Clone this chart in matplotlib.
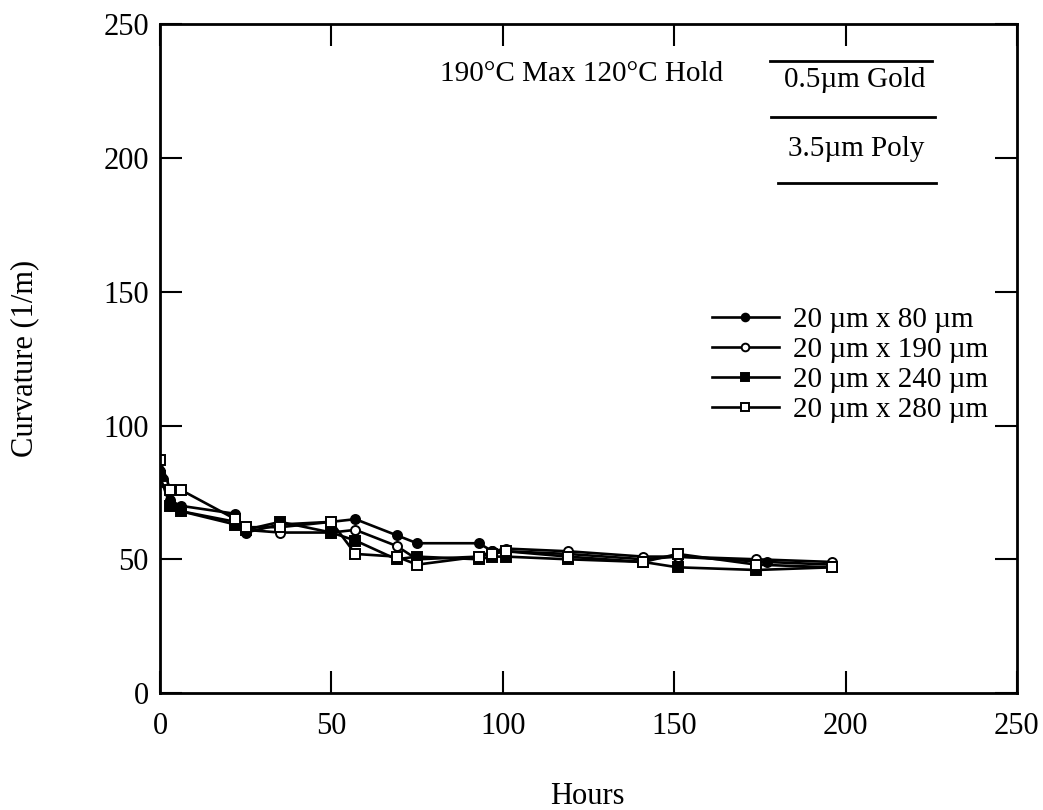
import matplotlib
matplotlib.use("Agg")
import matplotlib.pyplot as plt
from matplotlib.lines import Line2D

plt.rcParams['font.family'] = ['Liberation Serif', 'DejaVu Serif']

# ---- data ----
x80 = [0, 1, 3, 6, 22, 25, 35, 50, 57, 69, 75, 93, 97, 101, 119, 141, 151, 177, 196]
y80 = [83, 80, 72, 70, 67, 60, 63, 64, 65, 59, 56, 56, 53, 53, 52, 50, 51, 49, 48]

x190 = [0, 1, 3, 6, 22, 25, 35, 50, 57, 69, 75, 93, 97, 101, 119, 141, 151, 174, 196]
y190 = [82, 79, 70, 68, 64, 61, 60, 60, 61, 55, 50, 51, 53, 54, 53, 51, 51, 50, 49]

x240 = [0, 3, 6, 22, 25, 35, 50, 57, 69, 75, 93, 97, 101, 119, 141, 151, 174, 196]
y240 = [81, 70, 68, 63, 61, 64, 60, 57, 50, 51, 50, 51, 51, 50, 49, 47, 46, 47]

x280 = [0, 3, 6, 22, 25, 35, 50, 57, 69, 75, 93, 97, 101, 119, 141, 151, 174, 196]
y280 = [87, 76, 76, 65, 62, 62, 64, 52, 51, 48, 51, 52, 53, 51, 49, 52, 48, 47]

labels = ["20 µm x 80 µm", "20 µm x 190 µm", "20 µm x 240 µm", "20 µm x 280 µm"]
xticks = [0, 50, 100, 150, 200, 250]
yticks = [0, 50, 100, 150, 200, 250]

W, H = 1043, 810
fig = plt.figure(figsize=(W / 100, H / 100), dpi=100)
ax = fig.add_axes([0.1534, 0.1444, 0.8216, 0.8256])

common = dict(color='black', lw=1.9, markersize=6.5, markeredgewidth=1.4)
ax.plot(x80, y80, marker='o', markerfacecolor='black', label=labels[0], **common)
ax.plot(x190, y190, marker='o', markerfacecolor='white', label=labels[1], **common)
ax.plot(x240, y240, marker='s', markerfacecolor='black', label=labels[2], **common)
ax.plot(x280, y280, marker='s', markerfacecolor='white', label=labels[3], **common)

ax.set_xlim(0, 250)
ax.set_ylim(0, 250)
ax.set_xticks(xticks)
ax.set_yticks(yticks)
ax.tick_params(direction='in', length=16, width=1.5, top=True, right=True,
               labelsize=22)
ax.tick_params(axis='x', pad=14)
ax.tick_params(axis='y', pad=8)
for s in ax.spines.values():
    s.set_linewidth(2)

fig.text(587 / W, 1 - 797 / H, "Hours", fontsize=22, ha='center', va='center')
fig.text(25 / W, 1 - 358 / H, "Curvature (1/m)", fontsize=22, ha='center',
         va='center', rotation=90)

leg = ax.legend(loc='upper left', bbox_to_anchor=(0.63, 0.595), frameon=False,
                fontsize=21, handlelength=2.3, handletextpad=0.5,
                labelspacing=0.12, borderaxespad=0, markerscale=0.85)

ax.text(0.327, 0.925, "190°C Max 120°C Hold", transform=ax.transAxes,
        fontsize=21, va='center', ha='left')
ax.text(0.811, 0.917, "0.5µm Gold", transform=ax.transAxes,
        fontsize=21, va='center', ha='center')
ax.text(0.813, 0.814, "3.5µm Poly", transform=ax.transAxes,
        fontsize=21, va='center', ha='center')
for yy, x0, x1 in [(0.945, 0.712, 0.901), (0.862, 0.713, 0.904), (0.762, 0.721, 0.906)]:
    ax.add_line(Line2D([x0, x1], [yy, yy], transform=ax.transAxes,
                       color='black', lw=2))

fig.savefig("out.png", dpi=100)
